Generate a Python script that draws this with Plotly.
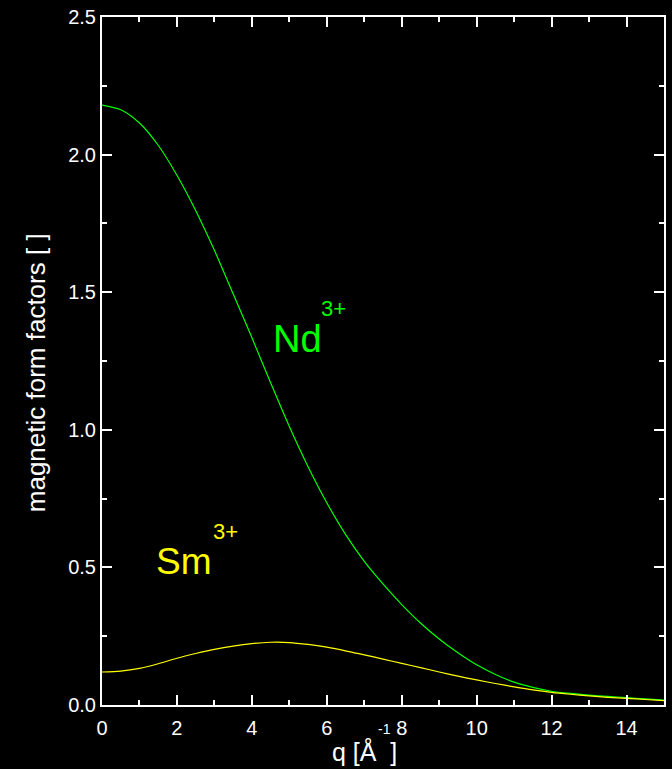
import plotly.graph_objects as go

# Data
q_nd = [0, 0.5, 1, 1.5, 2, 2.5, 3, 3.5, 4, 4.5, 5, 5.5, 6, 6.5, 7, 7.5, 8, 8.5, 9, 9.5,
        10, 10.5, 11, 11.5, 12, 12.5, 13, 13.5, 14, 14.5, 15]
f_nd = [2.180, 2.163, 2.115, 2.034, 1.925, 1.797, 1.652, 1.494, 1.335, 1.171, 1.012, 0.866, 0.735, 0.620,
        0.522, 0.440, 0.365, 0.298, 0.240, 0.190, 0.146, 0.111, 0.083, 0.064, 0.050, 0.042, 0.036, 0.031,
        0.027, 0.022, 0.018]

q_sm = [0, 0.5, 1, 1.5, 2, 2.5, 3, 3.5, 4, 4.5, 5, 5.5, 6, 6.5, 7, 7.5, 8, 8.5, 9, 9.5,
        10, 10.5, 11, 11.5, 12, 12.5, 13, 13.5, 14, 14.5, 15]
f_sm = [0.120, 0.123, 0.133, 0.150, 0.170, 0.187, 0.202, 0.214, 0.223, 0.228, 0.227, 0.220, 0.210, 0.197,
        0.182, 0.167, 0.151, 0.136, 0.120, 0.105, 0.091, 0.078, 0.066, 0.055, 0.046, 0.039, 0.033, 0.028,
        0.024, 0.020, 0.016]

x_ticks = [0, 2, 4, 6, 8, 10, 12, 14]
y_ticks = [0.0, 0.5, 1.0, 1.5, 2.0, 2.5]

GREEN = "#00ff00"
YELLOW = "#ffff00"
FONT = "Liberation Sans, Arial, sans-serif"

W, H = 672, 769
L, R, T, B = 102, 6, 17, 64
pw, ph = W - L - R, H - T - B


def px2paper(px, py):
    return (px - L) / pw, (H - B - py) / ph


fig = go.Figure()
fig.add_trace(go.Scatter(x=q_nd, y=f_nd, mode="lines",
                         line=dict(color=GREEN, width=1.2, shape="spline", smoothing=0.8),
                         name="Nd3+", showlegend=False))
fig.add_trace(go.Scatter(x=q_sm, y=f_sm, mode="lines",
                         line=dict(color=YELLOW, width=1.2, shape="spline", smoothing=0.8),
                         name="Sm3+", showlegend=False))

axis_common = dict(
    showline=True, linecolor="white", linewidth=2, mirror="ticks",
    ticks="inside", ticklen=10, tickwidth=2, tickcolor="white",
    showgrid=False, zeroline=False,
    tickfont=dict(family=FONT, size=20, color="white"),
)

fig.update_xaxes(range=[0, 15], tickvals=x_ticks, ticktext=[str(v) for v in x_ticks],
                 ticklabelstandoff=4,
                 minor=dict(ticks="inside", ticklen=5, tickwidth=2, tickcolor="white", dtick=1, tick0=0),
                 **axis_common)
fig.update_yaxes(range=[0, 2.5], tickvals=y_ticks, ticktext=[f"{v:.1f}" for v in y_ticks],
                 minor=dict(ticks="inside", ticklen=5, tickwidth=2, tickcolor="white", dtick=0.25, tick0=0),
                 **axis_common)

annotations = [
    dict(text="Nd", x=4.52, y=1.33, xref="x", yref="y", xanchor="left", yanchor="middle",
         showarrow=False, font=dict(family=FONT, size=38, color=GREEN)),
    dict(text="3+", x=5.78, y=1.44, xref="x", yref="y", xanchor="left", yanchor="middle",
         showarrow=False, font=dict(family=FONT, size=22, color=GREEN)),
    dict(text="Sm", x=1.4, y=0.52, xref="x", yref="y", xanchor="left", yanchor="middle",
         showarrow=False, font=dict(family=FONT, size=37, color=YELLOW)),
    dict(text="3+", x=2.9, y=0.632, xref="x", yref="y", xanchor="left", yanchor="middle",
         showarrow=False, font=dict(family=FONT, size=22, color=YELLOW)),
]
# y-axis title
xa, ya = px2paper(36, 373)
annotations.append(dict(text="magnetic form factors [ ]", x=xa, y=ya, xref="paper", yref="paper",
                        xanchor="center", yanchor="middle", textangle=-90, showarrow=False,
                        font=dict(family=FONT, size=26, color="white")))
# x-axis title built from pieces
xt, yt = px2paper(331, 768)
annotations.append(dict(text="q [Å\u00a0\u00a0]", x=xt, y=yt, xref="paper", yref="paper",
                        xanchor="left", yanchor="bottom", showarrow=False,
                        font=dict(family=FONT, size=25, color="white")))
xs, ys = px2paper(377, 729)
annotations.append(dict(text="-1", x=xs, y=ys, xref="paper", yref="paper",
                        xanchor="left", yanchor="middle", showarrow=False,
                        font=dict(family=FONT, size=14, color="white")))

fig.update_layout(
    width=W, height=H,
    margin=dict(l=L, r=R, t=T, b=B, pad=0),
    paper_bgcolor="black", plot_bgcolor="black",
    font=dict(family=FONT, color="white"),
    annotations=annotations,
    showlegend=False,
)

fig.write_html("out.html", config={"displayModeBar": False},
               post_script="document.body.style.margin='0';document.body.style.background='black';")
